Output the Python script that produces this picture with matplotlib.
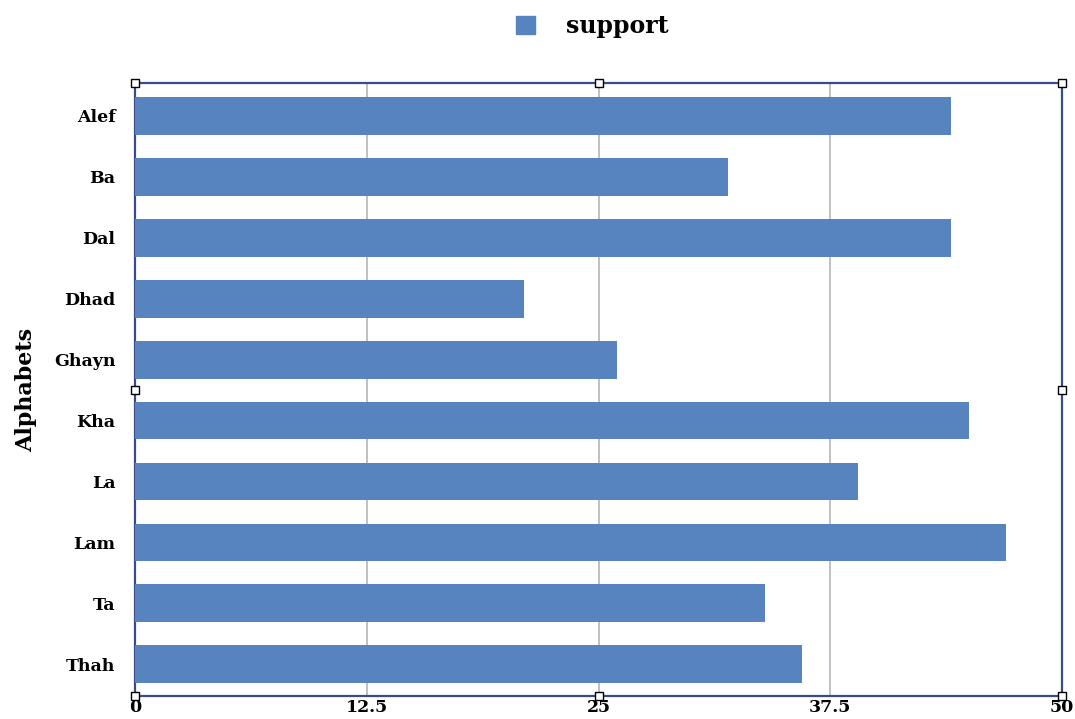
import matplotlib
matplotlib.use('Agg')
import matplotlib.pyplot as plt
from matplotlib.patches import Patch

letters = ['Alef', 'Ba', 'Dal', 'Dhad', 'Ghayn', 'Kha', 'La', 'Lam', 'Ta', 'Thah']
support = [44, 32, 44, 21, 26, 45, 39, 47, 34, 36]
xticks = [0, 12.5, 25, 37.5, 50]
xtick_labels = ['0', '12.5', '25', '37.5', '50']

plt.rcParams['font.family'] = ['DejaVu Serif']
plt.rcParams['font.weight'] = 'bold'

fig = plt.figure(figsize=(10.75, 7.19), dpi=100)
ax = fig.add_axes([135 / 1075, 1 - 696 / 719, 927 / 1075, 613 / 719])

ypos = list(range(len(letters)))
ax.barh(ypos, support, height=0.62, color='#5784bf', zorder=3)
ax.set_yticks(ypos)
ax.set_yticklabels(letters, fontsize=12.5, fontweight='bold')
ax.set_ylim(9.52, -0.54)
ax.set_xlim(0, 50)
ax.set_xticks(xticks)
ax.set_xticklabels(xtick_labels, fontsize=12.5, fontweight='bold')
ax.tick_params(length=0)
ax.tick_params(axis='x', pad=2)
ax.tick_params(axis='y', pad=14)
ax.grid(axis='x', color='#b5b5b5', linewidth=1.2, zorder=0)
ax.set_ylabel('Alphabets', fontsize=16, fontweight='bold', labelpad=12)

for s in ax.spines.values():
    s.set_color('#3a4a8a')
    s.set_linewidth(1.6)

# selection handles
hx = [0, 0.5, 1, 0, 1, 0, 0.5, 1]
hy = [1, 1, 1, 0.5, 0.5, 0, 0, 0]
ax.plot(hx, hy, linestyle='none', marker='s', markersize=6,
        markerfacecolor='white', markeredgecolor='black', markeredgewidth=1.0,
        transform=ax.transAxes, clip_on=False, zorder=10)

fig.legend(handles=[Patch(color='#5784bf', label='support')], loc='center',
           bbox_to_anchor=(592 / 1075, 1 - 26 / 719), frameon=False,
           prop={'size': 17, 'weight': 'bold'}, handlelength=0.8, handleheight=0.8,
           handletextpad=1.3)

fig.savefig('out.png', dpi=100)
